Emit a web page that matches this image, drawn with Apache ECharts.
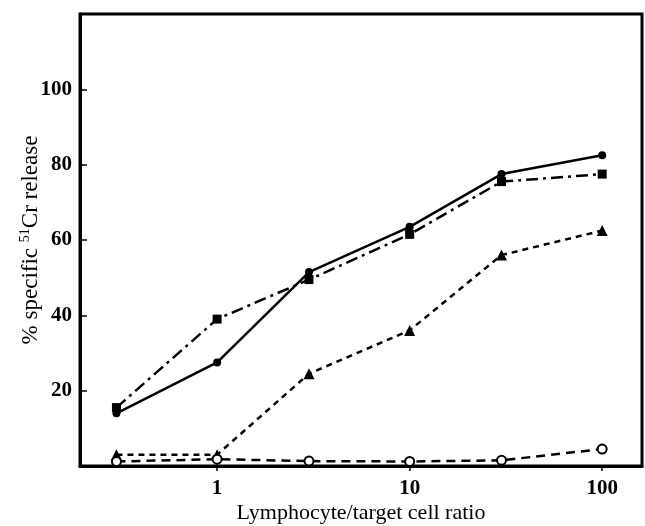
<!DOCTYPE html>
<html>
<head>
<meta charset="utf-8">
<script src="https://cdn.jsdelivr.net/npm/echarts@6/dist/echarts.min.js"></script>
<style>
  html, body { margin: 0; padding: 0; background: #fff; }
  #chart { width: 645px; height: 526px; }
</style>
</head>
<body>
<div id="chart"></div>
<script>
// lymphocyte/target ratios (log axis)
const ratios = [0.3, 1, 3, 10, 30, 100];
const solidCircles = [14, 27.5, 51.5, 63.5, 77.5, 82.5];
const filledSquares = [15.5, 39, 49.5, 61.5, 75.5, 77.5];
const filledTriangles = [3, 3, 24.5, 36, 56, 62.5];
const openCircles = [1.2, 1.8, 1.3, 1.2, 1.5, 4.5];
const xTickValues = [1, 10, 100];
const yTickValues = [20, 40, 60, 80, 100];

const font = 'Liberation Serif';

function pairs(values) {
  return ratios.map((r, i) => [r, values[i]]);
}

const chart = echarts.init(document.getElementById('chart'));
chart.setOption({
  animation: false,
  backgroundColor: '#fff',
  grid: {
    left: 80, top: 14, right: 3, bottom: 60,
    outerBoundsMode: 'none',
    show: true, borderColor: '#000', borderWidth: 3
  },
  xAxis: {
    type: 'log',
    logBase: 10,
    min: 0.194,
    max: 161,
    name: 'Lymphocyte/target cell ratio',
    nameLocation: 'middle',
    nameGap: 36,
    nameMoveOverlap: false,
    nameTextStyle: { fontFamily: font, fontSize: 22, color: '#000' },
    axisLine: { lineStyle: { color: '#000', width: 3 } },
    axisTick: { customValues: xTickValues, length: 5, lineStyle: { color: '#000', width: 1.5 } },
    axisLabel: {
      customValues: xTickValues,
      fontFamily: font, fontSize: 21, fontWeight: 'bold', color: '#000', margin: 12
    },
    splitLine: { show: false }
  },
  yAxis: {
    type: 'value',
    min: 0,
    max: 120,
    interval: 20,
    name: '% specific {sup|51}Cr release',
    nameLocation: 'middle',
    nameGap: 36,
    nameMoveOverlap: false,
    nameTextStyle: {
      fontFamily: font, fontSize: 23, color: '#000',
      rich: { sup: { fontFamily: font, fontSize: 14, verticalAlign: 'bottom', padding: [0, 0, 12, 0] } }
    },
    axisLine: { lineStyle: { color: '#000', width: 3 } },
    axisTick: { customValues: yTickValues, inside: true, length: 7, lineStyle: { color: '#000', width: 1.5 } },
    axisLabel: {
      customValues: yTickValues,
      fontFamily: font, fontSize: 21, fontWeight: 'bold', color: '#000', margin: 8
    },
    splitLine: { show: false }
  },
  series: [
    {
      type: 'line',
      data: pairs(solidCircles),
      symbol: 'circle', symbolSize: 8,
      itemStyle: { color: '#000' },
      lineStyle: { color: '#000', width: 2.5, type: 'solid' },
      clip: false
    },
    {
      type: 'line',
      data: pairs(filledSquares),
      symbol: 'rect', symbolSize: 9,
      itemStyle: { color: '#000' },
      lineStyle: { color: '#000', width: 2.5, type: [12, 5, 3, 5] },
      clip: false
    },
    {
      type: 'line',
      data: pairs(filledTriangles),
      symbol: 'triangle', symbolSize: 11,
      itemStyle: { color: '#000' },
      lineStyle: { color: '#000', width: 2.5, type: [6, 5] },
      clip: false
    },
    {
      type: 'line',
      data: pairs(openCircles),
      symbol: 'emptyCircle', symbolSize: 9,
      itemStyle: { color: '#000', borderWidth: 2.5 },
      lineStyle: { color: '#000', width: 2.5, type: [9, 6] },
      clip: false
    }
  ]
});
window.addEventListener('resize', function () {
  chart && chart.resize();
});
</script>
</body>
</html>
